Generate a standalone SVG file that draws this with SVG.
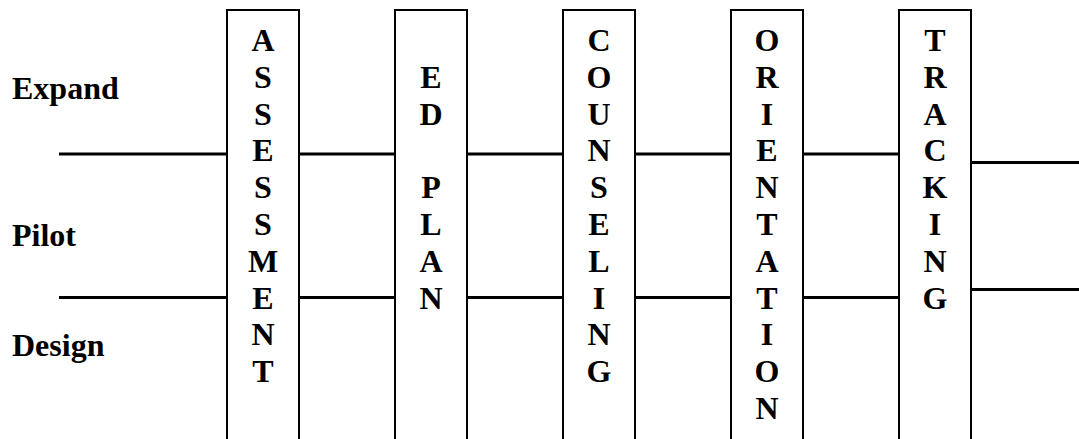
<svg xmlns="http://www.w3.org/2000/svg" width="1079" height="439" viewBox="0 0 1079 439">
<style>
.box{fill:#fff;stroke:#000;stroke-width:2}
.ln{stroke:#000;stroke-width:3;fill:none}
.t{font-family:"Liberation Serif","Times New Roman",serif;font-weight:bold;font-size:32px;fill:#000}
.c{text-anchor:middle}
</style>
<rect width="1079" height="439" fill="#fff"/>
<g id="connectors">
<line class="ln" x1="59" y1="154" x2="227" y2="154"/>
<line class="ln" x1="59" y1="297.5" x2="227" y2="297.5"/>
<line class="ln" x1="299" y1="154" x2="395" y2="154"/>
<line class="ln" x1="299" y1="297.5" x2="395" y2="297.5"/>
<line class="ln" x1="467" y1="154" x2="563" y2="154"/>
<line class="ln" x1="467" y1="297.5" x2="563" y2="297.5"/>
<line class="ln" x1="635" y1="154" x2="731" y2="154"/>
<line class="ln" x1="635" y1="297.5" x2="731" y2="297.5"/>
<line class="ln" x1="803" y1="154" x2="899" y2="154"/>
<line class="ln" x1="803" y1="297.5" x2="899" y2="297.5"/>
<line class="ln" x1="971" y1="162.5" x2="1079" y2="162.5"/>
<line class="ln" x1="971" y1="289.5" x2="1079" y2="289.5"/>
</g>
<g id="labels">
<text class="t" x="12" y="99">Expand</text>
<text class="t" x="12" y="246">Pilot</text>
<text class="t" x="12" y="356">Design</text>
</g>
<g id="assessment">
<rect class="box" x="227" y="10" width="72" height="440"/>
<text class="t c" x="263"><tspan x="263" y="51">A</tspan><tspan x="263" y="87.8">S</tspan><tspan x="263" y="124.6">S</tspan><tspan x="263" y="161.4">E</tspan><tspan x="263" y="198.2">S</tspan><tspan x="263" y="235">S</tspan><tspan x="263" y="271.8">M</tspan><tspan x="263" y="308.6">E</tspan><tspan x="263" y="345.4">N</tspan><tspan x="263" y="382.2">T</tspan></text>
</g>
<g id="edplan">
<rect class="box" x="395" y="10" width="72" height="440"/>
<text class="t c" x="431"><tspan x="431" y="87.8">E</tspan><tspan x="431" y="124.6">D</tspan><tspan x="431" y="198.2">P</tspan><tspan x="431" y="235">L</tspan><tspan x="431" y="271.8">A</tspan><tspan x="431" y="308.6">N</tspan></text>
</g>
<g id="counseling">
<rect class="box" x="563" y="10" width="72" height="440"/>
<text class="t c" x="599"><tspan x="599" y="51">C</tspan><tspan x="599" y="87.8">O</tspan><tspan x="599" y="124.6">U</tspan><tspan x="599" y="161.4">N</tspan><tspan x="599" y="198.2">S</tspan><tspan x="599" y="235">E</tspan><tspan x="599" y="271.8">L</tspan><tspan x="599" y="308.6">I</tspan><tspan x="599" y="345.4">N</tspan><tspan x="599" y="382.2">G</tspan></text>
</g>
<g id="orientation">
<rect class="box" x="731" y="10" width="72" height="440"/>
<text class="t c" x="767"><tspan x="767" y="51">O</tspan><tspan x="767" y="87.8">R</tspan><tspan x="767" y="124.6">I</tspan><tspan x="767" y="161.4">E</tspan><tspan x="767" y="198.2">N</tspan><tspan x="767" y="235">T</tspan><tspan x="767" y="271.8">A</tspan><tspan x="767" y="308.6">T</tspan><tspan x="767" y="345.4">I</tspan><tspan x="767" y="382.2">O</tspan><tspan x="767" y="419">N</tspan></text>
</g>
<g id="tracking">
<rect class="box" x="899" y="10" width="72" height="440"/>
<text class="t c" x="935"><tspan x="935" y="51">T</tspan><tspan x="935" y="87.8">R</tspan><tspan x="935" y="124.6">A</tspan><tspan x="935" y="161.4">C</tspan><tspan x="935" y="198.2">K</tspan><tspan x="935" y="235">I</tspan><tspan x="935" y="271.8">N</tspan><tspan x="935" y="308.6">G</tspan></text>
</g>
</svg>
